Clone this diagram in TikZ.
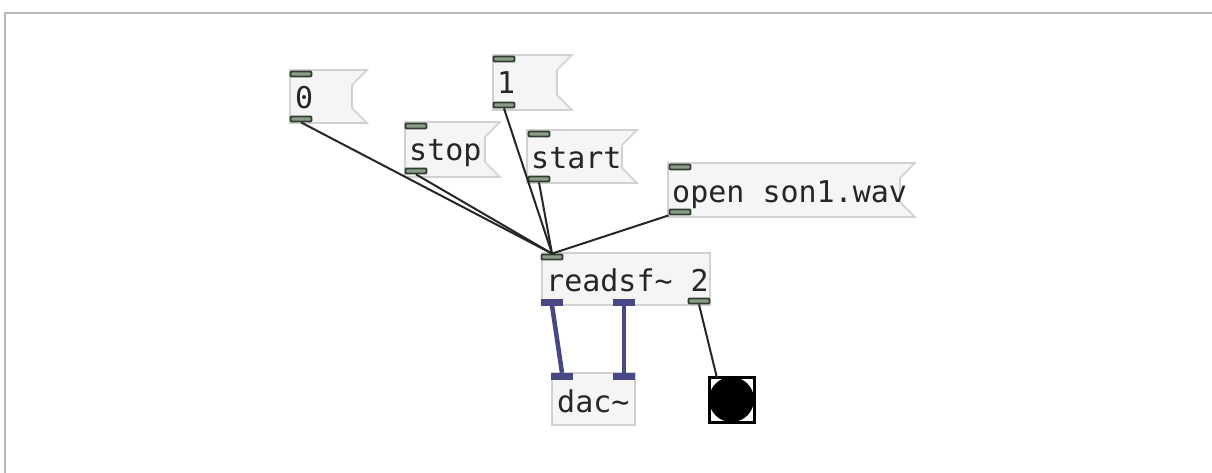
\documentclass[tikz,border=0pt]{standalone}
\usepackage{fontspec}
\setmonofont{DejaVu Sans Mono}
\begin{document}
\begin{tikzpicture}[x=1pt,y=-1pt,
  boxline/.style={draw=black!18,line width=1.6pt,fill=black!4},
  port/.style={draw=portedge,fill=portfill,line width=1.8pt,
    rounded corners=1pt,minimum width=21pt,minimum height=5pt,inner sep=0pt},
  sigport/.style={draw=sig,fill=sig,minimum width=21pt,minimum height=6pt,inner sep=0pt},
  label/.style={anchor=base west,inner sep=0pt,font=\fontsize{30}{30}\selectfont\ttfamily,text=black!85},
  ctl/.style={draw=black!85,line width=2pt},
  sigwire/.style={draw=sig,line width=4.5pt}]
\definecolor{sig}{RGB}{72,72,135}
\definecolor{portedge}{RGB}{48,62,48}
\definecolor{portfill}{RGB}{140,158,138}
\useasboundingbox (0,0) rectangle (1212,473);
% window frame
\draw[black!28,line width=2pt] (1212,13) -- (5,13) -- (5,473);

% message box outline: x1 y1 x2 y2 (flag reaches x2+15)
\newcommand\msgshape[4]{\path[boxline] (#1,#2) -- (#3+15,#2) -- (#3,#2+15) -- (#3,#4-15) -- (#3+15,#4) -- (#1,#4) -- cycle;}

% message boxes
\msgshape{290}{70}{352}{123}
\node[label] (tzero) at (295,109) {0};
\node[port] (zeroin) at (301,74) {};
\node[port] (zeroout) at (301,119) {};

\msgshape{493}{55}{557}{110}
\node[label] (tone) at (497,94) {1};
\node[port] (onein) at (504,59) {};
\node[port] (oneout) at (504,105) {};

\msgshape{405}{122}{485}{177}
\node[label] (tstop) at (409,161) {stop};
\node[port] (stopin) at (416,126) {};
\node[port] (stopout) at (416,171) {};

\msgshape{527}{130}{622}{183}
\node[label] (tstart) at (531,169) {start};
\node[port] (startin) at (539,134) {};
\node[port] (startout) at (539,179) {};

\msgshape{668}{163}{900}{217}
\node[label] (topen) at (672,202) {open son1.wav};
\node[port] (openin) at (680,167) {};
\node[port] (openout) at (680,212) {};

% readsf~ object
\path[boxline] (542,253) rectangle (710,305);
\node[label] (treadsf) at (546,291) {readsf\textasciitilde\ 2};
\node[port] (rin) at (552,257) {};
\node[sigport] (rout1) at (552,302) {};
\node[sigport] (rout2) at (624,302) {};
\node[port] (rout3) at (699,301) {};

% dac~ object
\path[boxline] (552,373) rectangle (635,425);
\node[label] (tdac) at (557,412) {dac\textasciitilde};
\node[sigport] (dacin1) at (562,376) {};
\node[sigport] (dacin2) at (624,376) {};

% bang
\draw[black,line width=3pt,fill=white] (709,377) rectangle (754,422);
\fill[black] (731.5,399.5) circle (22.5);
\coordinate (bangin) at (717,378);

% control connections
\draw[ctl] (zeroout.south) -- (rin.north);
\draw[ctl] (stopout.south) -- (rin.north);
\draw[ctl] (oneout.south) -- (rin.north);
\draw[ctl] (startout.south) -- (rin.north);
\draw[ctl] (openout.south west) -- (rin.north);
\draw[ctl] (rout3.south) -- (bangin);

% audio connections
\draw[sigwire] (rout1.south) -- (dacin1.north);
\draw[sigwire] (rout2.south) -- (dacin2.north);
\end{tikzpicture}
\end{document}
